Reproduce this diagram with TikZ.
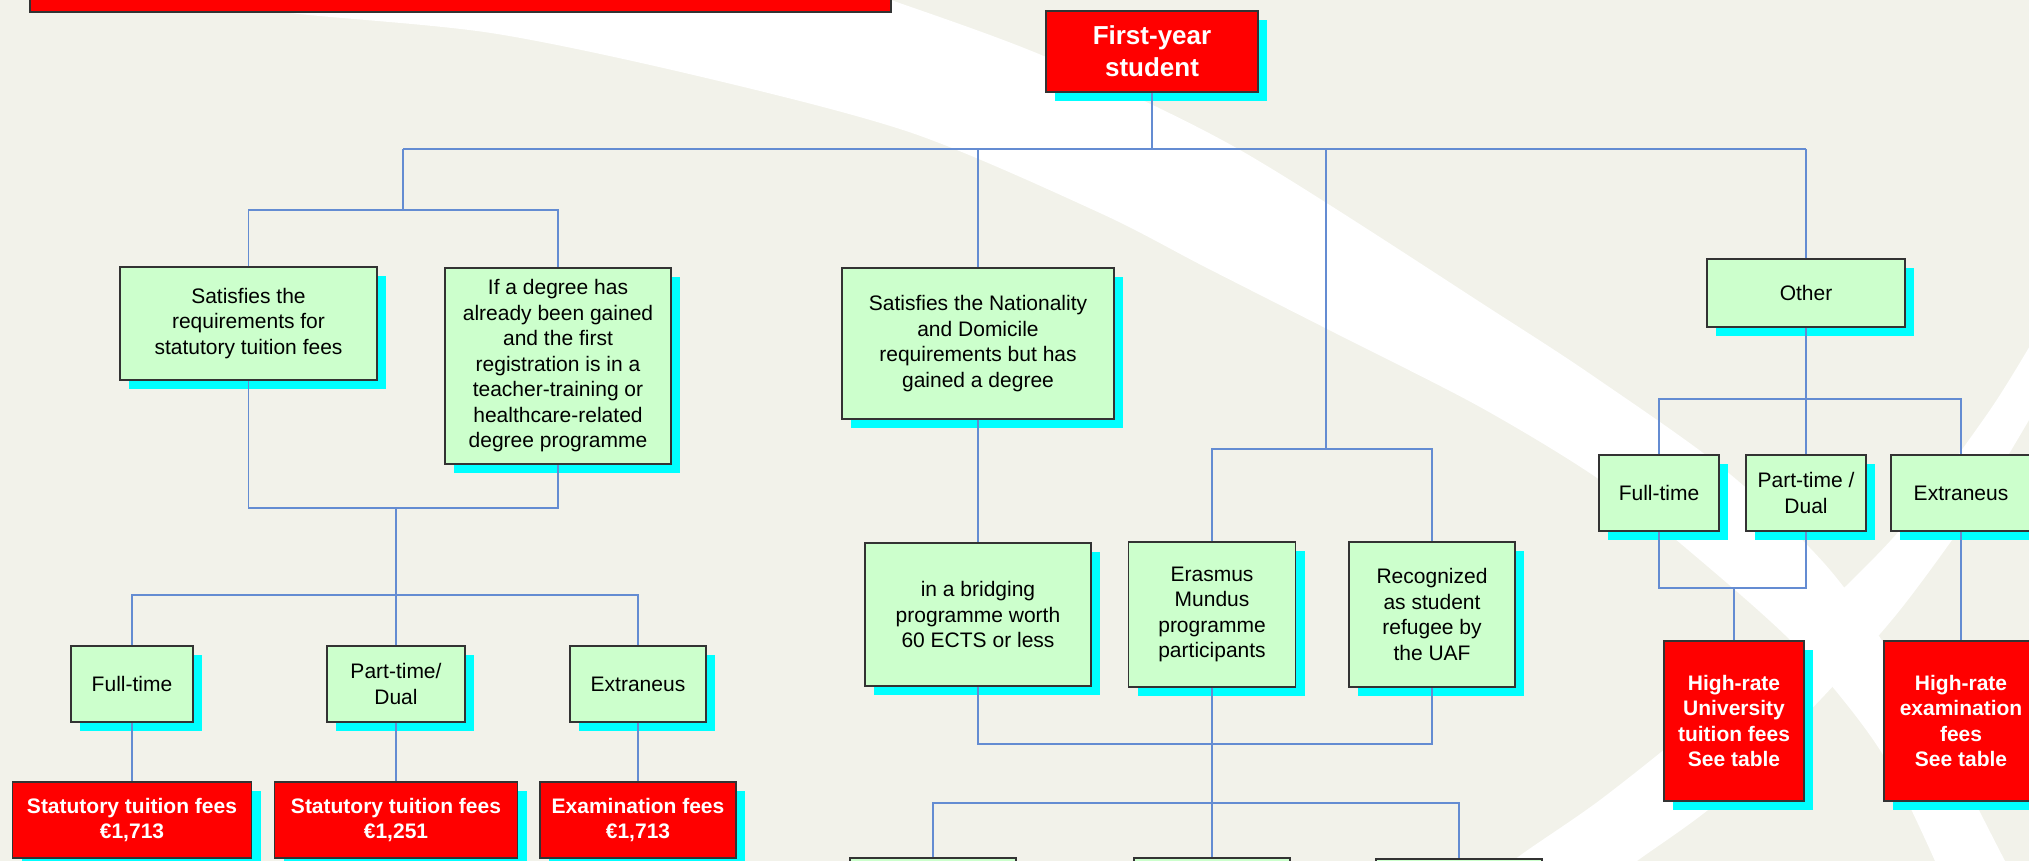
\documentclass[tikz,border=0pt]{standalone}
\usepackage{fontspec}
\setmainfont{Liberation Sans}
\usetikzlibrary{shadows}
\definecolor{bgbeige}{RGB}{242,242,234}
\definecolor{gfill}{RGB}{204,255,204}
\definecolor{rfill}{RGB}{255,0,0}
\definecolor{shadcyan}{RGB}{0,255,255}
\definecolor{linkblue}{RGB}{100,140,210}
\begin{document}
\begin{tikzpicture}[x=1pt,y=-1pt,
  gbox/.style={draw=black!80, line width=1.2pt, fill=gfill, inner sep=0pt, align=center,
    font=\fontsize{21}{25.5}\selectfont,
    drop shadow={shadow xshift=9pt,shadow yshift=-9pt,fill=shadcyan,opacity=1}},
  rbox/.style={gbox, fill=rfill, text=white, font=\fontsize{21}{25.5}\selectfont\bfseries},
  wire/.style={draw=linkblue, line width=1.5pt}]
\clip (0,0) rectangle (2029,861);
\fill[bgbeige] (0,0) rectangle (2029,861);
% white swooshes
\fill[white] plot[smooth] coordinates {(860,-10) (891,0) (1046,57) (1240,150) (1500,315) (1599,380) (1725,470) (1830,570) (1920,700) (2005,861) (2015,880)}
  -- (1930,880) -- plot[smooth] coordinates {(1935,861) (1880,750) (1800,650) (1700,560) (1600,480) (1480,407) (1335,333) (1205,267) (1100,213) (912,133) (702,77) (491,33) (281,12) (150,-10)} -- cycle;
\fill[white] plot[smooth] coordinates {(1480,890) (1518,857) (1600,800) (1700,720) (1800,630) (1900,530) (1990,410) (2045,320)}
  -- (2045,405) -- plot[smooth] coordinates {(2029,420) (1980,500) (1900,610) (1820,700) (1720,800) (1637,861) (1600,890)} -- cycle;

% nodes
\node[draw=black!80, line width=1.2pt, fill=rfill, minimum width=861, minimum height=52, inner sep=0pt] (bar) at (460.5,-14) {};
\node[rbox, minimum width=212, minimum height=81, font=\fontsize{26}{32}\selectfont\bfseries] (first) at (1152,51.5) {First-year\\student};
\node[gbox, minimum width=257, minimum height=113] (sat1) at (248.5,323.5) {Satisfies the\\requirements for\\statutory tuition fees};
\node[gbox, minimum width=226, minimum height=196] (deg) at (558,366) {If a degree has\\already been gained\\and the first\\registration is in a\\teacher-training or\\healthcare-related\\degree programme};
\node[gbox, minimum width=272, minimum height=151] (nat) at (978,343.5) {Satisfies the Nationality\\and Domicile\\requirements but has\\gained a degree};
\node[gbox, minimum width=198, minimum height=68] (other) at (1806,293) {Other};
\node[gbox, minimum width=122, minimum height=76] (ft1) at (132,684) {Full-time};
\node[gbox, minimum width=138, minimum height=76] (pt1) at (396,684) {Part-time/\\Dual};
\node[gbox, minimum width=136, minimum height=76] (ex1) at (638,684) {Extraneus};
\node[rbox, minimum width=239, minimum height=76] (r1) at (132,820) {Statutory tuition fees\\€1,713};
\node[rbox, minimum width=243, minimum height=76] (r2) at (396,820) {Statutory tuition fees\\€1,251};
\node[rbox, minimum width=196, minimum height=76] (r3) at (638,820) {Examination fees\\€1,713};
\node[gbox, minimum width=226, minimum height=143] (bridge) at (978,614.5) {in a bridging\\programme worth\\60 ECTS or less};
\node[gbox, minimum width=167, minimum height=145] (erasmus) at (1212,614.5) {Erasmus\\Mundus\\programme\\participants};
\node[gbox, minimum width=166, minimum height=145] (refugee) at (1432,614.5) {Recognized\\as student\\refugee by\\the UAF};
\node[gbox, minimum width=120, minimum height=76] (ft2) at (1659,493) {Full-time};
\node[gbox, minimum width=120, minimum height=76] (pt2) at (1806,493) {Part-time /\\Dual};
\node[gbox, minimum width=140, minimum height=76] (ex2) at (1961,493) {Extraneus};
\node[rbox, minimum width=140, minimum height=160] (hr1) at (1734,721) {High-rate\\University\\tuition fees\\See table};
\node[rbox, minimum width=154, minimum height=160] (hr2) at (1961,721) {High-rate\\examination\\fees\\See table};
\node[gbox, minimum width=166, minimum height=84] (b1) at (933,900) {};
\node[gbox, minimum width=156, minimum height=84] (b2) at (1212,900) {};
\node[gbox, minimum width=166, minimum height=84] (b3) at (1459,901) {};

% junction coordinates
\coordinate (h1a) at (403,149);
\coordinate (h1b) at (1806,149);
\coordinate (j2) at (403,210);
\coordinate (j3) at (1326,449);
\coordinate (j4) at (396,508);
\coordinate (j5) at (396,595);
\coordinate (j6) at (978,744);
\coordinate (j7) at (932,803);
\coordinate (j8) at (1806,399);
\coordinate (j9) at (1734,588);

% connectors
\draw[wire] (h1a) -- (h1b);
\draw[wire] (first.south) -- (first.south |- h1a);
\draw[wire] (h1a) -- (j2);
\draw[wire] (sat1.north) |- (deg.north |- j2) -- (deg.north);
\draw[wire] (nat.north) -- (nat.north |- h1a);
\draw[wire] (other.north) -- (h1b);
\draw[wire] (j3) -- (j3 |- h1a);
\draw[wire] (erasmus.north) |- (refugee.north |- j3) -- (refugee.north);
\draw[wire] (sat1.south) |- (deg.south |- j4) -- (deg.south);
\draw[wire] (j4) -- (j5);
\draw[wire] (ft1.north) |- (ex1.north |- j5) -- (ex1.north);
\draw[wire] (pt1.north) -- (j5);
\draw[wire] (ft1.south) -- (r1.north);
\draw[wire] (pt1.south) -- (r2.north);
\draw[wire] (ex1.south) -- (r3.north);
\draw[wire] (nat.south) -- (bridge.north);
\draw[wire] (bridge.south) |- (refugee.south |- j6) -- (refugee.south);
\draw[wire] (erasmus.south) -- (b2.north);
\draw[wire] (b1.north) |- (b3.north |- j7) -- (b3.north);
\draw[wire] (other.south) -- (pt2.north);
\draw[wire] (ft2.north) |- (ex2.north |- j8) -- (ex2.north);
\draw[wire] (ft2.south) |- (pt2.south |- j9) -- (pt2.south);
\draw[wire] (j9) -- (hr1.north);
\draw[wire] (ex2.south) -- (hr2.north);
\end{tikzpicture}
\end{document}
